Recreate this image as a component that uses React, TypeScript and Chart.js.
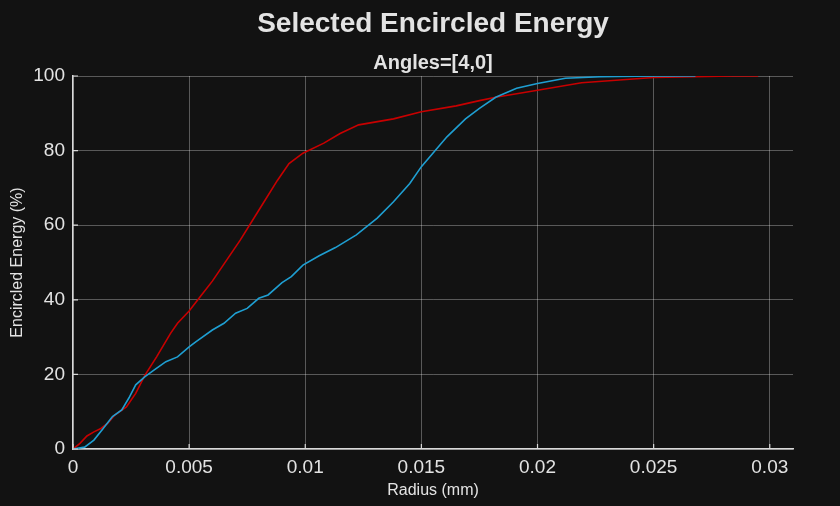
import React, { useEffect, useRef } from 'react';
import { Chart, registerables } from 'chart.js';

Chart.register(...registerables);

// Radius (mm) / encircled energy (%)
const redRadius = [
  0, 0.0003, 0.0006, 0.0009, 0.0012, 0.0015, 0.0018, 0.0023, 0.0027, 0.0031,
  0.0036, 0.0042, 0.0045, 0.005, 0.0055, 0.006, 0.0066, 0.0072, 0.008, 0.0088,
  0.0093, 0.0099, 0.0108, 0.0115, 0.0123, 0.0138, 0.015, 0.0165, 0.0175, 0.0182,
  0.02, 0.0219, 0.025, 0.0284, 0.0295,
];
const redEnergy = [
  0, 1.5, 3.5, 4.6, 5.5, 6.9, 9.1, 11.3, 14.9, 19.8,
  24.7, 31, 33.7, 37, 41, 45, 50.5, 56, 64, 72,
  76.5, 79.3, 82, 84.6, 86.9, 88.5, 90.4, 92, 93.4, 94.3,
  96.2, 98.2, 99.6, 100, 100,
];
const blueRadius = [
  0, 0.0005, 0.0009, 0.0013, 0.0017, 0.0021, 0.0024, 0.0027, 0.0031, 0.0035,
  0.004, 0.0045, 0.005, 0.0053, 0.006, 0.0065, 0.007, 0.0075, 0.008, 0.0084,
  0.009, 0.0094, 0.0099, 0.0106, 0.0113, 0.0122, 0.0131, 0.0138, 0.0145, 0.015,
  0.0161, 0.0169, 0.0175, 0.0182, 0.0191, 0.02, 0.0212, 0.0227, 0.025, 0.0268,
];
const blueEnergy = [
  0, 0.5, 2.4, 5.5, 8.7, 10.5, 13.6, 17.2, 19.4, 21.2,
  23.4, 24.7, 27.4, 28.8, 31.9, 33.7, 36.4, 37.7, 40.4, 41.3,
  44.6, 46.2, 49.3, 51.8, 54, 57.4, 61.9, 66.3, 71.2, 75.7,
  83.7, 88.5, 91.3, 94.3, 96.7, 98, 99.4, 99.8, 100, 100,
];
const xTickValues = [0, 0.005, 0.01, 0.015, 0.02, 0.025, 0.03];
const yTickValues = [0, 20, 40, 60, 80, 100];

const FONT = "'Liberation Sans', Arial, sans-serif";
const TEXT = '#e3e3e3';

// matplotlib-like ticks pointing into the plot
const innerTicks = {
  id: 'innerTicks',
  afterDatasetsDraw(chart: any) {
    const { ctx, chartArea, scales } = chart;
    ctx.save();
    ctx.strokeStyle = '#d9d9d9';
    ctx.lineWidth = 1.2;
    ctx.beginPath();
    scales.x.ticks.forEach((t: any) => {
      const px = scales.x.getPixelForValue(t.value);
      ctx.moveTo(px, chartArea.bottom);
      ctx.lineTo(px, chartArea.bottom - 5);
    });
    scales.y.ticks.forEach((t: any) => {
      const py = scales.y.getPixelForValue(t.value);
      ctx.moveTo(chartArea.left, py);
      ctx.lineTo(chartArea.left + 5, py);
    });
    ctx.stroke();
    ctx.restore();
  },
};

const App = () => {
  const canvasRef = useRef<HTMLCanvasElement>(null);
  const chartRef = useRef<Chart | null>(null);

  useEffect(() => {
    document.body.style.margin = '0';
    if (!canvasRef.current) return;
    const ctx = canvasRef.current.getContext('2d');
    if (!ctx) return;

    chartRef.current = new Chart(ctx, {
      type: 'line',
      data: {
        datasets: [
          {
            label: 'Angles=[0,0]',
            data: blueRadius.map((r, i) => ({ x: r, y: blueEnergy[i] })),
            borderColor: '#1f9fd2',
            borderWidth: 1.6,
            pointRadius: 0,
            tension: 0,
          },
          {
            label: 'Angles=[4,0]',
            data: redRadius.map((r, i) => ({ x: r, y: redEnergy[i] })),
            borderColor: '#c80000',
            borderWidth: 1.6,
            pointRadius: 0,
            tension: 0,
          },
        ],
      },
      options: {
        responsive: false,
        animation: false,
        layout: { padding: { left: 0, right: 47, top: 0, bottom: 0 } },
        scales: {
          x: {
            type: 'linear',
            min: 0,
            max: 0.031,
            afterBuildTicks: (scale: any) => {
              scale.ticks = xTickValues.map(v => ({ value: v }));
            },
            afterFit: (scale: any) => {
              scale.height = 57;
            },
            ticks: {
              includeBounds: false,
              color: TEXT,
              font: { family: FONT, size: 19 },
              padding: 7,
              maxRotation: 0,
              callback: (v: any) => String(Number(Number(v).toFixed(3))),
            },
            grid: { color: 'rgba(255,255,255,0.3)', lineWidth: 1, drawTicks: false },
            border: { color: '#d9d9d9', width: 1.5 },
            title: {
              display: true,
              text: 'Radius (mm)',
              color: TEXT,
              font: { family: FONT, size: 16 },
              padding: { top: 0, bottom: 6 },
            },
          },
          y: {
            type: 'linear',
            min: 0,
            max: 100,
            afterBuildTicks: (scale: any) => {
              scale.ticks = yTickValues.map(v => ({ value: v }));
            },
            afterFit: (scale: any) => {
              scale.width = 73;
            },
            ticks: {
              color: TEXT,
              font: { family: FONT, size: 19 },
              padding: 8,
            },
            grid: { color: 'rgba(255,255,255,0.3)', lineWidth: 1, drawTicks: false },
            border: { color: '#d9d9d9', width: 1.5 },
            title: {
              display: true,
              text: 'Encircled Energy (%)',
              color: TEXT,
              font: { family: FONT, size: 16 },
              padding: { top: 8, bottom: 0 },
            },
          },
        },
        plugins: {
          legend: { display: false },
          tooltip: { enabled: false },
          title: {
            display: true,
            fullSize: false,
            text: 'Selected Encircled Energy',
            color: TEXT,
            font: { family: FONT, size: 28, weight: 'bold' },
            padding: { top: 7, bottom: 0 },
          },
          subtitle: {
            display: true,
            fullSize: false,
            text: 'Angles=[4,0]',
            color: TEXT,
            font: { family: FONT, size: 20, weight: 'bold' },
            padding: { top: 10.4, bottom: 1 },
          },
        },
      },
      plugins: [innerTicks],
    });

    return () => {
      if (chartRef.current) {
        chartRef.current.destroy();
        chartRef.current = null;
      }
    };
  }, []);

  return (
    <div style={{ width: 840, height: 506, background: '#121212' }}>
      <canvas ref={canvasRef} width={840} height={506} style={{ display: 'block' }}></canvas>
    </div>
  );
};

export default App;
